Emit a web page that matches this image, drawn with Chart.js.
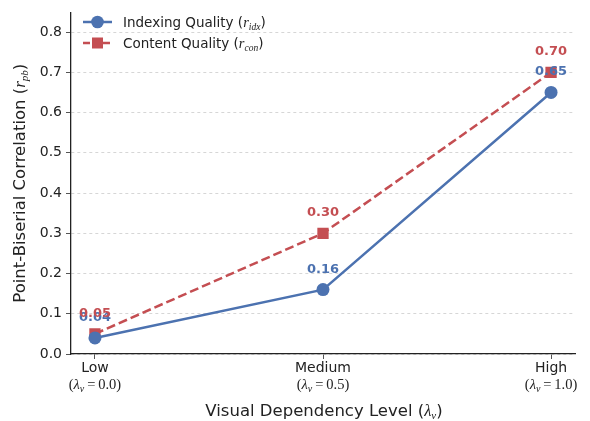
<!DOCTYPE html>
<html><head><meta charset="utf-8">
<script src="https://cdn.jsdelivr.net/npm/chart.js@4"></script>
<style>html,body{margin:0;padding:0;background:#fff}#wrap{width:590px;height:421px}</style>
</head><body><div id="wrap"><canvas id="c" width="590" height="421"></canvas></div>
<script>
const categories = ['Low', 'Medium', 'High'];
const lambdaValues = ['0.0', '0.5', '1.0'];
const indexingQuality = [0.04, 0.16, 0.65];
const contentQuality = [0.05, 0.30, 0.70];
const yTickValues = [0.0, 0.1, 0.2, 0.3, 0.4, 0.5, 0.6, 0.7, 0.8];

const BLUE = '#4c72b0', RED = '#c44e52';
const SANS = '"DejaVu Sans", sans-serif';
const SERIF = '"Liberation Serif", "DejaVu Serif", serif';

function richText(ctx, segs, x, y, align) {
  let w = 0;
  segs.forEach(s => { ctx.font = s.f; s.w = ctx.measureText(s.t).width; w += s.w; });
  let cx = align === 'center' ? x - w / 2 : (align === 'right' ? x - w : x);
  ctx.textAlign = 'left'; ctx.textBaseline = 'alphabetic';
  segs.forEach(s => { ctx.font = s.f; ctx.fillStyle = s.c || '#222'; ctx.fillText(s.t, cx, y + (s.dy || 0)); cx += s.w; });
}

const extras = {
  id: 'extras',
  afterDatasetsDraw(chart) {
    const ctx = chart.ctx, xs = chart.scales.x, ys = chart.scales.y;
    ctx.save();
    ctx.font = 'bold 13px ' + SANS; ctx.textAlign = 'center'; ctx.textBaseline = 'alphabetic';
    [[indexingQuality, BLUE], [contentQuality, RED]].forEach(([arr, col]) => {
      ctx.fillStyle = col;
      arr.forEach((v, i) => ctx.fillText(v.toFixed(2), xs.getPixelForValue(i), ys.getPixelForValue(v) - 17));
    });
    ctx.restore();
  },
  afterDraw(chart) {
    const ctx = chart.ctx, xs = chart.scales.x, ys = chart.scales.y;
    ctx.save();
    // x sublabels
    categories.forEach((c, i) => {
      richText(ctx, [
        {t: '(', f: '14.5px ' + SERIF},
        {t: 'λ', f: 'italic 14.5px ' + SERIF},
        {t: 'v', f: 'italic 10px ' + SERIF, dy: 3},
        {t: '\u2009=\u2009' + lambdaValues[i] + ')', f: '14.5px ' + SERIF}
      ], xs.getPixelForValue(i), 389, 'center');
    });
    // x title
    richText(ctx, [
      {t: 'Visual Dependency Level (', f: '16.5px ' + SANS},
      {t: 'λ', f: 'italic 16.5px ' + SERIF},
      {t: 'v', f: 'italic 11px ' + SERIF, dy: 3},
      {t: ')', f: '16.5px ' + SANS}
    ], (chart.chartArea.left + chart.chartArea.right) / 2 + 1, 416, 'center');
    // y title
    ctx.save();
    ctx.translate(25, (chart.chartArea.top + chart.chartArea.bottom) / 2);
    ctx.rotate(-Math.PI / 2);
    richText(ctx, [
      {t: 'Point-Biserial Correlation (', f: '16.5px ' + SANS},
      {t: 'r', f: 'italic 17px ' + SERIF},
      {t: 'pb', f: 'italic 11px ' + SERIF, dy: 3},
      {t: ')', f: '16.5px ' + SANS}
    ], 0, 0, 'center');
    ctx.restore();
    // legend
    const items = [
      {col: BLUE, dash: [], style: 'circle', label: 'Indexing Quality (', sub: 'idx'},
      {col: RED, dash: [7, 3], style: 'rect', label: 'Content Quality (', sub: 'con'}
    ];
    items.forEach((it, k) => {
      const y = 22 + k * 21;
      ctx.strokeStyle = it.col; ctx.lineWidth = 2.5; ctx.setLineDash(it.dash);
      ctx.beginPath(); ctx.moveTo(83, y); ctx.lineTo(112, y); ctx.stroke();
      ctx.setLineDash([]);
      ctx.fillStyle = it.col;
      if (it.style === 'circle') { ctx.beginPath(); ctx.arc(97.5, y, 6.3, 0, Math.PI * 2); ctx.fill(); }
      else ctx.fillRect(92, y - 5.5, 11, 11);
      richText(ctx, [
        {t: it.label, f: '13.5px ' + SANS},
        {t: 'r', f: 'italic 14.5px ' + SERIF},
        {t: it.sub, f: 'italic 9.5px ' + SERIF, dy: 3},
        {t: ')', f: '13.5px ' + SANS}
      ], 123, y + 5, 'left');
    });
    ctx.restore();
  }
};

new Chart(document.getElementById('c'), {
  type: 'line',
  data: {
    datasets: [
      {label: 'Indexing Quality', data: categories.map((c, i) => ({x: i, y: indexingQuality[i]})),
       borderColor: BLUE, backgroundColor: BLUE, borderWidth: 2.5, pointStyle: 'circle', pointRadius: 6.5,
       pointBorderWidth: 0, tension: 0, fill: false},
      {label: 'Content Quality', data: categories.map((c, i) => ({x: i, y: contentQuality[i]})),
       borderColor: RED, backgroundColor: RED, borderWidth: 2.5, borderDash: [9, 4], pointStyle: 'rect', pointRadius: 8,
       pointBorderWidth: 0, tension: 0, fill: false}
    ]
  },
  options: {
    responsive: false, animation: false, devicePixelRatio: 1,
    layout: {padding: {left: 0, top: 5, right: 15, bottom: 0}},
    plugins: {legend: {display: false}, tooltip: {enabled: false}},
    scales: {
      x: {
        type: 'linear', min: -0.105, max: 2.105,
        afterBuildTicks: s => { s.ticks = categories.map((c, i) => ({value: i})); },
        afterFit: s => { s.height = 67; },
        ticks: {callback: v => categories[v], font: {family: SANS, size: 14}, color: '#222', padding: 1, maxRotation: 0, autoSkip: false},
        grid: {drawOnChartArea: false, drawTicks: true, tickLength: 5, tickColor: '#555', tickWidth: 1},
        border: {color: '#222', width: 1.3}
      },
      y: {
        min: 0, max: 0.849,
        afterBuildTicks: s => { s.ticks = yTickValues.map(v => ({value: v})); },
        afterFit: s => { s.width = 71; },
        ticks: {callback: v => v.toFixed(1), font: {family: SANS, size: 14}, color: '#222', padding: 4},
        grid: {color: '#cccccc', lineWidth: 0.8, tickLength: 5, tickColor: '#555', tickWidth: 1, tickBorderDash: []},
        border: {color: '#222', width: 1.3, dash: [3, 3]}
      }
    }
  },
  plugins: [extras]
});
</script></body></html>
